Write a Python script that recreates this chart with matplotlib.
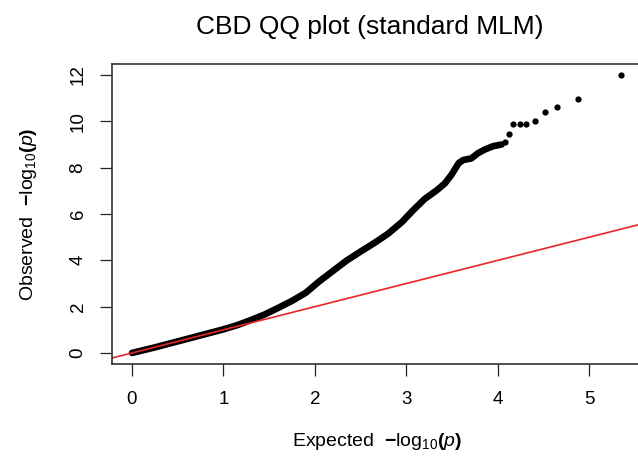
import numpy as np
import matplotlib
matplotlib.use('Agg')
import matplotlib.pyplot as plt

plt.rcParams['font.family'] = 'Liberation Sans'
plt.rcParams['mathtext.fontset'] = 'custom'
plt.rcParams['mathtext.rm'] = 'Liberation Sans'
plt.rcParams['mathtext.it'] = 'Liberation Sans:italic'
plt.rcParams['mathtext.bf'] = 'Liberation Sans:bold'

# dense part of the QQ curve (expected vs observed -log10 p)
exp_dense = [0.00, 0.25, 0.50, 0.75, 1.00, 1.15, 1.30, 1.45, 1.60, 1.75, 1.90, 2.05,
             2.20, 2.35, 2.50, 2.65, 2.80, 2.95, 3.07, 3.20, 3.33, 3.42, 3.49, 3.57,
             3.62, 3.71, 3.78, 3.86, 3.95, 4.04]
obs_dense = [0.00, 0.24, 0.50, 0.76, 1.02, 1.20, 1.42, 1.66, 1.95, 2.25, 2.60, 3.10,
             3.55, 4.00, 4.38, 4.75, 5.15, 5.65, 6.15, 6.65, 7.02, 7.32, 7.68, 8.19,
             8.33, 8.40, 8.62, 8.79, 8.93, 9.00]

# the sparse top hits
exp_top = [4.08, 4.12, 4.17, 4.24, 4.31, 4.40, 4.51, 4.65, 4.88, 5.35]
obs_top = [9.12, 9.45, 9.87, 9.87, 9.87, 10.01, 10.39, 10.60, 10.98, 11.98]

xticks = [0, 1, 2, 3, 4, 5]
yticks = [0, 2, 4, 6, 8, 10, 12]

fig = plt.figure(figsize=(6.38, 4.59), dpi=100)
ax = fig.add_axes([0.1762, 0.2068, 0.8285, 0.654])

ax.plot(exp_dense, obs_dense, color='black', lw=4.8, solid_capstyle='round',
        solid_joinstyle='round')
ax.plot(exp_top, obs_top, 'o', color='black', ms=4.5, mew=0)
ax.axline((0, 0), slope=1, color='#e8262a', lw=1.2)

ax.set_xlim(-0.214, 5.564)
ax.set_ylim(-0.48, 12.48)
ax.set_xticks(xticks)
ax.set_yticks(yticks)
ax.tick_params(length=8.6, width=0.9, labelsize=13.5, color='#222222')
ax.tick_params(axis='x', pad=11)
ax.tick_params(axis='y', pad=10, labelrotation=90)
for lab in ax.get_yticklabels():
    lab.set_verticalalignment('center')
for s in ax.spines.values():
    s.set_linewidth(1.1)
    s.set_color('#222222')

ax.set_xlabel(r'Expected  $\mathbf{-}\mathrm{log}_{10}\mathbf{(}p\mathbf{)}$', fontsize=14, labelpad=16)
ax.set_ylabel(r'Observed  $\mathbf{-}\mathrm{log}_{10}\mathbf{(}p\mathbf{)}$', fontsize=14, labelpad=22)
fig.text(370 / 638, 1 - 27 / 459, 'CBD QQ plot (standard MLM)', fontsize=19,
         ha='center', va='center')

plt.savefig('out.png', dpi=100)
